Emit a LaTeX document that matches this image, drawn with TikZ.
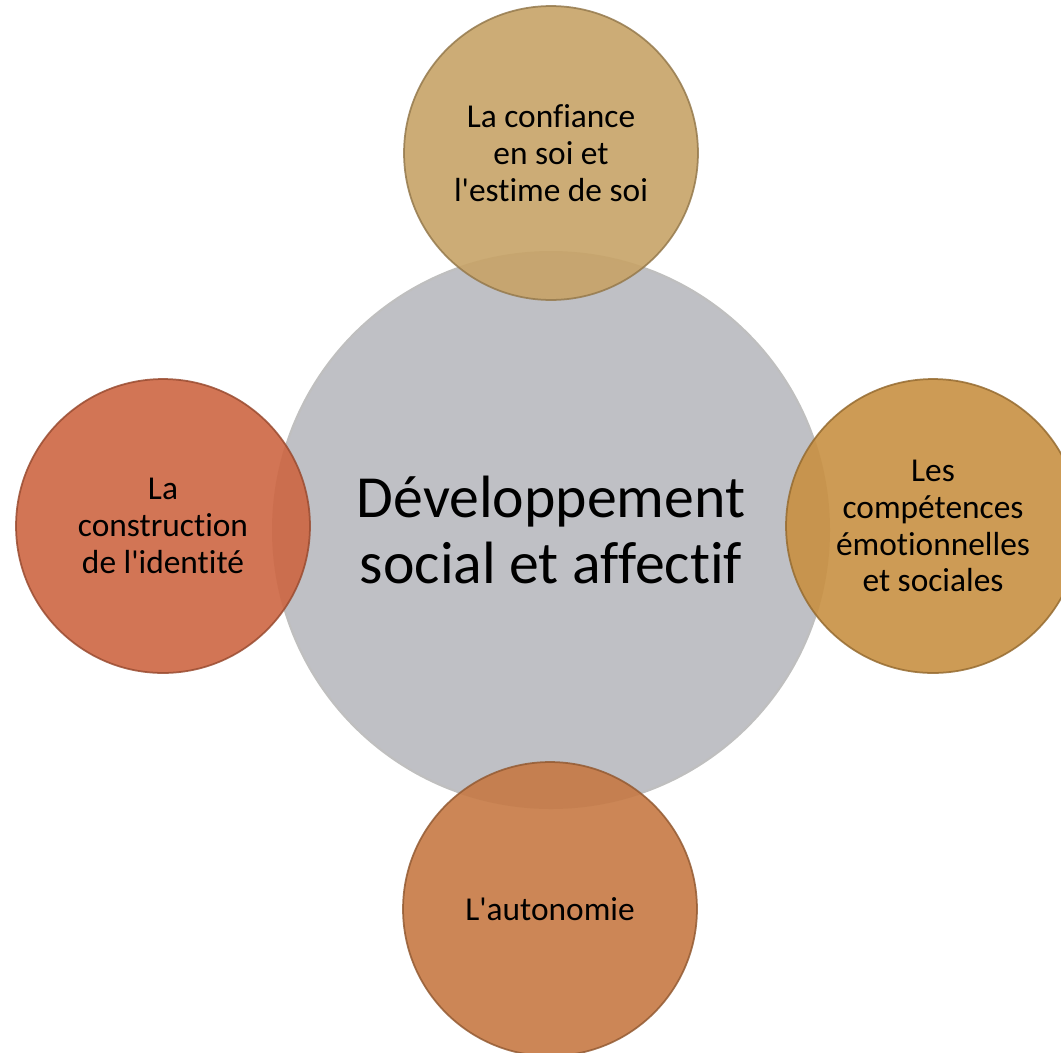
\documentclass[tikz,border=0pt]{standalone}
\usepackage{fontspec}
\newfontfamily\calibri{Carlito}[Ligatures=NoCommon]
\usepackage{xcolor}
\usepackage{tikz}
\usetikzlibrary{positioning}
\definecolor{gris}{RGB}{191,192,197}
\definecolor{sable}{RGB}{199,163,103}
\definecolor{brique}{RGB}{205,102,66}
\definecolor{ocre}{RGB}{200,144,66}
\definecolor{cuivre}{RGB}{198,121,68}

\begin{document}
\begin{tikzpicture}[x=0.02cm,y=-0.02cm]
					\tikzstyle{centre}=[circle,fill=gris,draw=gray!50,line width=1.2pt,minimum size=11.12cm,inner sep=0pt,align=center,font=\calibri\fontsize{34}{37.5}\selectfont]
					\tikzstyle{bulle}=[circle,fill opacity=0.9,draw opacity=0.85,text opacity=1,line width=1pt,minimum size=5.88cm,inner sep=0pt,align=center,font=\calibri\fontsize{19}{21}\selectfont]
					\useasboundingbox (0,0) rectangle (1061,1052);
					\node[centre](dev) at (551,530){Développement\\social et affectif};
					\node[bulle,fill=sable,draw=sable!75!black](confiance) at (551,153){La confiance\\en soi et\\l'estime de soi};
					\node[bulle,fill=ocre,draw=ocre!75!black](competences) at (933,526){Les\\compétences\\émotionnelles\\et sociales};
					\node[bulle,fill=cuivre,draw=cuivre!75!black](autonomie) at (550,909){L'autonomie};
					\node[bulle,fill=brique,draw=brique!75!black](identite) at (163,526){La\\construction\\de l'identité};
				\end{tikzpicture}
\end{document}
